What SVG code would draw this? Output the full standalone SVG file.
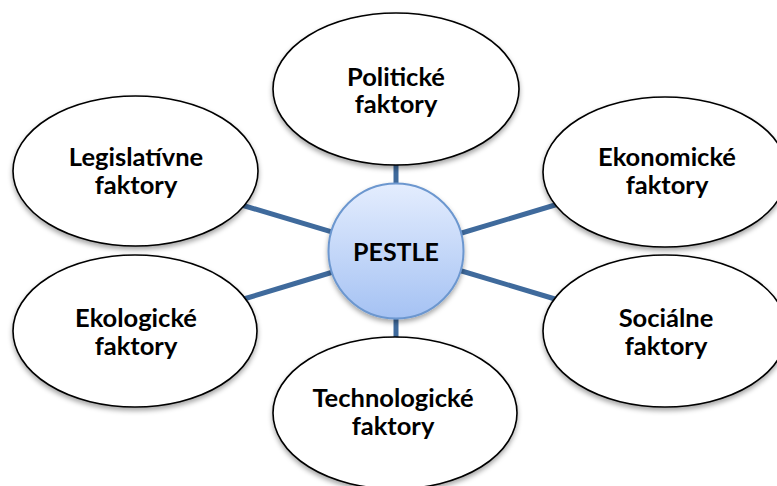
<svg xmlns="http://www.w3.org/2000/svg" width="777" height="486" viewBox="0 0 777 486">
  <defs>
    <filter id="shadow" x="-20%" y="-20%" width="140%" height="150%">
      <feDropShadow dx="0" dy="3" stdDeviation="2.5" flood-color="#000" flood-opacity="0.35"/>
    </filter>
    <linearGradient id="hub" x1="0" y1="0" x2="0" y2="1">
      <stop offset="0" stop-color="#E4EDFE"/>
      <stop offset="1" stop-color="#A5C2F3"/>
    </linearGradient>
    <style>
      .conn { stroke: #3F6A9C; stroke-width: 5; fill: none; }
      .node { fill: #FFFFFF; stroke: #000000; stroke-width: 1.6; filter: url(#shadow); }
      .hub { fill: url(#hub); stroke: #6C97CF; stroke-width: 2; filter: url(#shadow); }
      .label { font-family: Lato, "Liberation Sans", sans-serif; font-weight: bold; font-size: 25.5px; fill: #000000; text-anchor: middle; }
      .hublabel { font-family: Lato, "Liberation Sans", sans-serif; font-weight: bold; font-size: 25px; fill: #000000; text-anchor: middle; }
    </style>
  </defs>
  <rect width="777" height="486" fill="#FFFFFF"/>
  <g id="connectors">
    <line class="conn" x1="396" y1="158" x2="396" y2="192"/>
    <line class="conn" x1="396" y1="312" x2="396" y2="346"/>
    <line class="conn" x1="240" y1="204.5" x2="340" y2="234.4"/>
    <line class="conn" x1="242" y1="299.5" x2="338" y2="270.5"/>
    <line class="conn" x1="455" y1="235" x2="560" y2="203.5"/>
    <line class="conn" x1="455" y1="269" x2="560" y2="300.5"/>
  </g>
  <g id="node-politicke">
    <ellipse class="node" cx="396" cy="89" rx="123" ry="76"/>
    <text class="label" x="396" y="86">Politické</text>
    <text class="label" x="396" y="113">faktory</text>
  </g>
  <g id="node-legislativne">
    <ellipse class="node" cx="135.5" cy="171" rx="122.5" ry="75"/>
    <text class="label" x="136" y="166">Legislatívne</text>
    <text class="label" x="136" y="194">faktory</text>
  </g>
  <g id="node-ekonomicke">
    <ellipse class="node" cx="665" cy="172" rx="122" ry="75"/>
    <text class="label" x="667" y="166">Ekonomické</text>
    <text class="label" x="667" y="194">faktory</text>
  </g>
  <g id="node-ekologicke">
    <ellipse class="node" cx="135" cy="331" rx="122" ry="76"/>
    <text class="label" x="136" y="327">Ekologické</text>
    <text class="label" x="136" y="355">faktory</text>
  </g>
  <g id="node-socialne">
    <ellipse class="node" cx="665" cy="331" rx="122" ry="76"/>
    <text class="label" x="666" y="327">Sociálne</text>
    <text class="label" x="666" y="355">faktory</text>
  </g>
  <g id="node-technologicke">
    <ellipse class="node" cx="395" cy="413" rx="122" ry="76"/>
    <text class="label" x="393" y="407">Technologické</text>
    <text class="label" x="393" y="435">faktory</text>
  </g>
  <g id="node-pestle">
    <circle class="hub" cx="396" cy="251" r="67.5"/>
    <text class="hublabel" x="396" y="261">PESTLE</text>
  </g>
</svg>
